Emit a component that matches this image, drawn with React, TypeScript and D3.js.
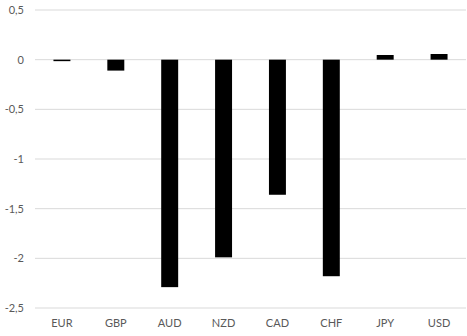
import React from "react";
import * as d3 from "d3";

const categories = ["EUR", "GBP", "AUD", "NZD", "CAD", "CHF", "JPY", "USD"];
const values = [-0.015, -0.11, -2.29, -1.99, -1.36, -2.18, 0.047, 0.057];
const yTicks = [0.5, 0, -0.5, -1, -1.5, -2, -2.5];

const W = 467;
const H = 336;
const left = 35;
const right = 466;
const top = 10;
const bottom = 308;

export default function App() {
  const x = d3.scaleBand<string>().domain(categories).range([left, right]).padding(0);
  const y = d3.scaleLinear().domain([0.5, -2.5]).range([top, bottom]);
  const barW = x.bandwidth() * 0.315;
  const fmt = (v: number) => String(v).replace(".", ",");
  return (
    <svg
      width={W}
      height={H}
      style={{ position: "absolute", left: 0, top: 0, background: "#fff" }}
      fontFamily="Lato, 'Open Sans', sans-serif"
    >
      {yTicks.map((t) => (
        <g key={t}>
          <line x1={left} x2={right} y1={y(t)} y2={y(t)} stroke="#d9d9d9" strokeWidth={1} />
          <text x={24} y={y(t)} dy="0.35em" textAnchor="end" fontSize={11} fill="#595959">
            {fmt(t)}
          </text>
        </g>
      ))}
      {categories.map((c, i) => {
        const v = values[i];
        const cx = (x(c) as number) + x.bandwidth() / 2;
        const y0 = y(Math.max(0, v));
        const y1 = y(Math.min(0, v));
        return <rect key={c} x={cx - barW / 2} y={y0} width={barW} height={Math.max(1, y1 - y0)} fill="#000" />;
      })}
      {categories.map((c) => (
        <text
          key={c}
          x={(x(c) as number) + x.bandwidth() / 2}
          y={323}
          dy="0.35em"
          textAnchor="middle"
          fontSize={11}
          fill="#595959"
        >
          {c}
        </text>
      ))}
    </svg>
  );
}
